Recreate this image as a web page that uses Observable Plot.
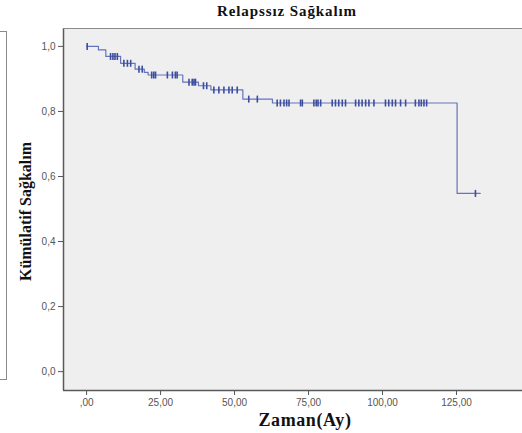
<!DOCTYPE html>
<html>
<head>
<meta charset="utf-8">
<script src="https://cdn.jsdelivr.net/npm/d3@7"></script>
<script src="https://cdn.jsdelivr.net/npm/@observablehq/plot@0.6"></script>
<style>
  html, body { margin: 0; padding: 0; background: #ffffff; }
  #wrap { position: relative; width: 522px; height: 433px; overflow: hidden; }
  #leftpanel { position: absolute; left: -100px; top: 31px; width: 105px; height: 347px; border: 1px solid #8a8a8a; }
</style>
</head>
<body>
<div id="wrap"><div id="leftpanel"></div></div>
<script>
// Step points of the Kaplan–Meier curve (time in months, cumulative survival)
const stepTimes = [0, 4, 6.5, 11.5, 16.4, 19.5, 20.8, 32.5, 37.8, 42, 52.8, 62.8, 125.2, 133];
const stepSurv  = [1.0, 0.989, 0.969, 0.948, 0.930, 0.920, 0.912, 0.890, 0.879, 0.866, 0.838, 0.826, 0.548, 0.548];
// Censored observations (times)
const censorTimes = [
  0.2, 8.1, 8.9, 9.6, 10.4, 12.6, 13.8, 14.9, 17.7, 18.8, 22.0, 22.7, 23.3,
  27.3, 29.0, 30.0, 30.6, 34.6, 35.7, 36.3, 36.8, 39.5, 40.6,
  43.0, 44.7, 46.4, 48.1, 49.2, 50.9, 54.8, 57.7,
  64.4, 65.5, 66.7, 67.6, 68.4, 72.3, 72.9, 76.8, 77.6, 78.2, 79.1,
  83.0, 84.1, 85.2, 86.4, 87.5, 90.9, 92.0, 93.1, 94.3, 95.4, 97.1,
  101.0, 102.1, 103.3, 104.4, 106.1, 107.8, 111.1, 112.3, 113.1, 114.0, 114.9, 131.4
];
const xTicks = [0, 25, 50, 75, 100, 125];
const xTickLabels = [",00", "25,00", "50,00", "75,00", "100,00", "125,00"];
const yTicks = [0, 0.2, 0.4, 0.6, 0.8, 1.0];
const yTickLabels = ["0,0", "0,2", "0,4", "0,6", "0,8", "1,0"];
const title = "Relapssız Sağkalım";
const xLabel = "Zaman(Ay)";
const yLabel = "Kümülatif Sağkalım";

const steps = stepTimes.map((t, i) => ({t, s: stepSurv[i]}));
function survAt(t) {
  let s = stepSurv[0];
  for (let i = 0; i < stepTimes.length; i++) if (stepTimes[i] <= t) s = stepSurv[i];
  return s;
}
const censors = censorTimes.map(t => ({t, s: survAt(t)}));

const tickSymbol = {
  draw(context, size) {
    context.moveTo(0, -3.5);
    context.lineTo(0, 3.5);
  }
};

const xDom = [-7.8, 147.3];
const yDom = [-0.058, 1.055];
const serif = "'Liberation Serif', 'DejaVu Serif', serif";

const chart = Plot.plot({
  width: 522,
  height: 433,
  marginLeft: 63,
  marginRight: 0,
  marginTop: 28,
  marginBottom: 43,
  style: {fontFamily: "'Liberation Sans', Arial, sans-serif", fontSize: "10px", background: "transparent", overflow: "visible"},
  x: {domain: xDom, ticks: xTicks, tickFormat: d => xTickLabels[xTicks.indexOf(d)], tickSize: 5, tickPadding: 3, label: null, line: false},
  y: {domain: yDom, ticks: yTicks, tickFormat: d => yTickLabels[yTicks.indexOf(d)], tickSize: 5, tickPadding: 3, label: null, line: false},
  marks: [
    Plot.frame({fill: "#efefef", stroke: null}),
    Plot.ruleX([xDom[0]], {stroke: "#5a5a5a", strokeWidth: 1.5}),
    Plot.ruleY([yDom[0]], {stroke: "#5a5a5a", strokeWidth: 1.5}),
    Plot.ruleY([yDom[1]], {stroke: "#8a8a8a", strokeWidth: 1}),
    Plot.line(steps, {x: "t", y: "s", curve: "step-after", stroke: "#6673bd", strokeWidth: 1.2}),
    Plot.dot(censors, {x: "t", y: "s", symbol: tickSymbol, fill: "none", stroke: "#3c4d9e", strokeWidth: 1.6}),
    Plot.text([title], {frameAnchor: "top", textAnchor: "middle", lineAnchor: "middle", dx: -6, dy: -17, text: d => d, fontFamily: serif, fontWeight: "bold", fontSize: 15, fill: "#111"}),
    Plot.text([xLabel], {frameAnchor: "bottom", textAnchor: "middle", lineAnchor: "middle", dx: 12, dy: 30, text: d => d, fontFamily: serif, fontWeight: "bold", fontSize: 18, fill: "#111"}),
    Plot.text([yLabel], {frameAnchor: "left", textAnchor: "middle", lineAnchor: "middle", dx: -38, dy: 2, rotate: -90, text: d => d, fontFamily: serif, fontWeight: "bold", fontSize: 16, fill: "#111"})
  ]
});
chart.querySelectorAll('[aria-label="x-axis tick label"] text, [aria-label="y-axis tick label"] text').forEach(t => t.setAttribute("fill", "#555"));
chart.querySelectorAll('[aria-label="x-axis tick"], [aria-label="y-axis tick"]').forEach(g => g.setAttribute("stroke", "#555"));
chart.querySelectorAll('text').forEach(t => {
  if (t.textContent === title) t.setAttribute("letter-spacing", "0.9");
  if (t.textContent === xLabel) t.setAttribute("letter-spacing", "0.6");
});
document.getElementById("wrap").appendChild(chart);
chart.style.position = "absolute";
chart.style.left = "0px";
chart.style.top = "0px";
</script>
</body>
</html>
